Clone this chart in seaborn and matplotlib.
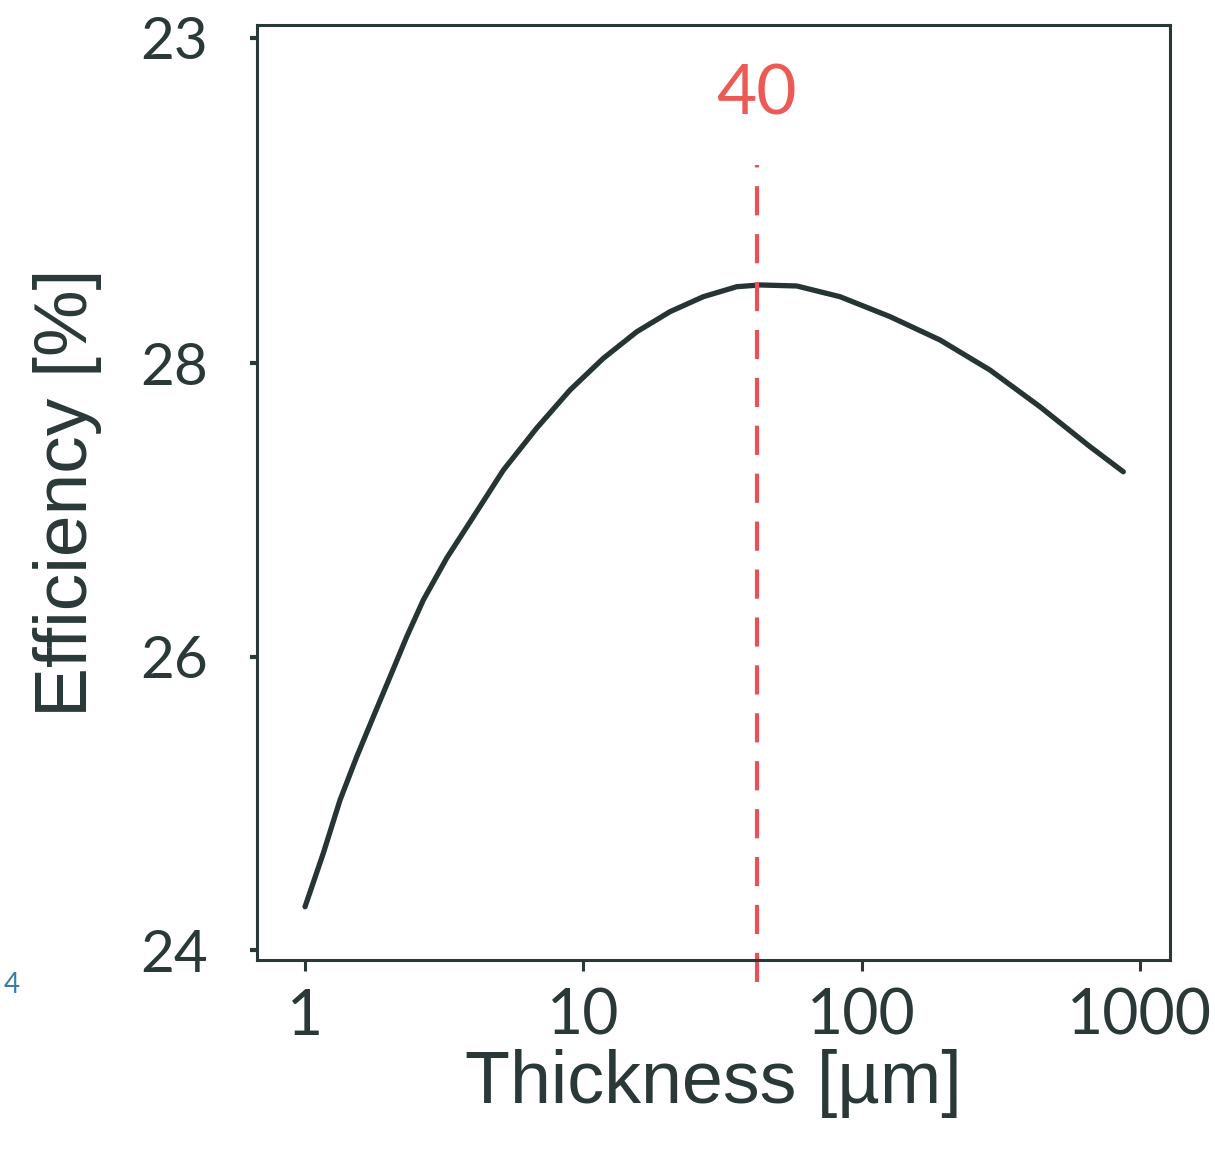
import numpy as np
import pandas as pd
import seaborn as sns
import matplotlib.pyplot as plt
import matplotlib.transforms as mtransforms

# curve: thickness [um] vs efficiency [%]
thickness = [1.0, 1.163, 1.336, 1.534, 1.76, 2.021, 2.32, 2.661, 3.23, 3.917,
             5.159, 6.802, 8.958, 11.8, 15.56, 20.49, 26.99, 35.58, 43.15,
             58.47, 83.62, 126.5, 191.3, 289.3, 437.5, 661.8, 871.6]
efficiency = [24.295, 24.659, 25.022, 25.317, 25.59, 25.862, 26.135, 26.385, 26.671, 26.917,
              27.27, 27.557, 27.816, 28.032, 28.213, 28.35, 28.452, 28.52, 28.532,
              28.525, 28.452, 28.316, 28.157, 27.952, 27.702, 27.43, 27.259]

x_ticks = [1, 10, 100, 1000]
x_labels = ["1", "10", "100", "1000"]
y_ticks = [24, 26, 28, 30.215]
y_labels = ["24", "26", "28", "23"]

optimum_pos = 42
optimum_label = "40"

df = pd.DataFrame({"thickness": thickness, "efficiency": efficiency})

sns.set_theme(style="white")
plt.rcParams['font.family'] = ['Lato', 'DejaVu Sans']

ink = '#2b3838'
red = '#e8505b'

fig = plt.figure(figsize=(12.15, 11.6), dpi=100)
ax = fig.add_axes([0.2115, 0.1724, 0.7515, 0.806])

sns.lineplot(data=df, x="thickness", y="efficiency", ax=ax, color='#263434', linewidth=3.8)

ax.set_xscale('log')
ax.set_xlim(0.672, 1283)
ax.set_ylim(23.932, 30.303)

# dashed marker at the optimum thickness
ax.axvline(optimum_pos, ymin=-0.024, ymax=0.85, color=red, linewidth=3,
           dashes=(7, 4.5), clip_on=False)
trans = mtransforms.blended_transform_factory(ax.transData, ax.transAxes)
ax.text(optimum_pos, 0.925, optimum_label, transform=trans, ha='center', va='center',
        color='#ec5a55', fontsize=50)

ax.set_xticks(x_ticks)
ax.set_xticklabels(x_labels)
ax.minorticks_off()
ax.set_yticks(y_ticks)
ax.set_yticklabels(y_labels)

ax.tick_params(axis='x', direction='out', length=8, width=2.2, color=ink,
               labelsize=45, labelcolor=ink, pad=12, bottom=True)
ax.tick_params(axis='y', direction='out', length=5, width=3, color=ink,
               labelsize=42, labelcolor=ink, pad=30, left=True)

for s in ax.spines.values():
    s.set_color(ink)
    s.set_linewidth(2.2)

ax.set_xlabel("Thickness [µm]", family=['Liberation Sans', 'DejaVu Sans'],
              fontsize=53, color=ink, labelpad=2)
ax.set_ylabel("Efficiency [%]", family=['Liberation Sans', 'DejaVu Sans'],
              fontsize=54, color=ink, labelpad=28)

# stray fragment at the left edge of the scan
fig.text(0.003, 1 - 985 / 1160, "4", color='#3a7ca5', fontsize=20, va='center')

fig.savefig("out.png", dpi=100)
